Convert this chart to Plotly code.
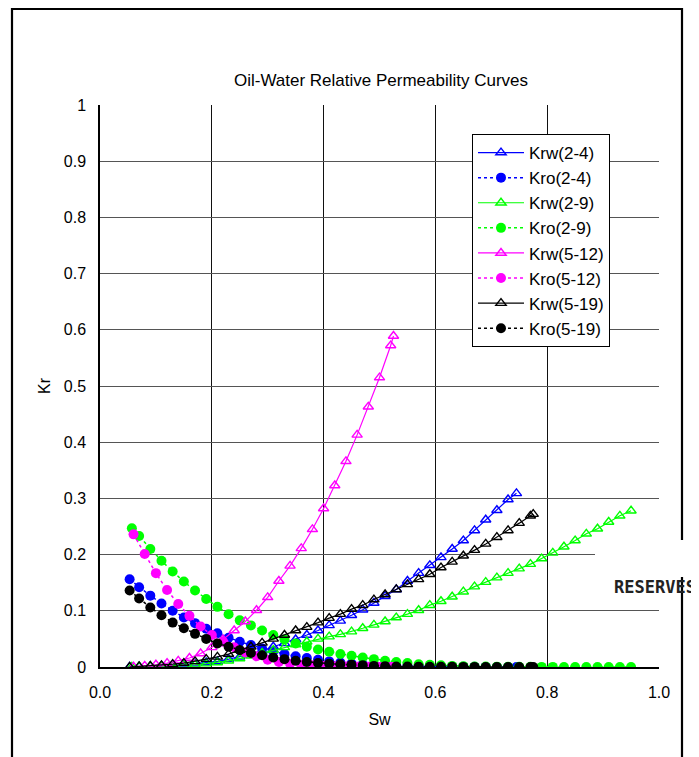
import plotly.graph_objects as go

# ---------------- data ----------------
sw_24 = [0.053, 0.07, 0.09, 0.11, 0.13, 0.15, 0.17, 0.19, 0.21, 0.23, 0.25, 0.27, 0.29, 0.31,
         0.33, 0.35, 0.37, 0.39, 0.41, 0.43, 0.45, 0.47, 0.49, 0.51, 0.53, 0.55, 0.57, 0.59,
         0.61, 0.63, 0.65, 0.67, 0.69, 0.71, 0.73, 0.745]
krw_24 = [0, 0.0005, 0.001, 0.002, 0.003, 0.004, 0.006, 0.008, 0.010, 0.014, 0.018, 0.023,
          0.029, 0.036, 0.042, 0.049, 0.057, 0.065, 0.074, 0.082, 0.092, 0.102, 0.114, 0.126,
          0.138, 0.153, 0.167, 0.181, 0.195, 0.210, 0.225, 0.243, 0.262, 0.279, 0.298, 0.309]
kro_24 = [0.156, 0.142, 0.127, 0.113, 0.100, 0.088, 0.078, 0.068, 0.060, 0.052, 0.045, 0.039,
          0.033, 0.028, 0.023, 0.019, 0.016, 0.013, 0.010, 0.008, 0.006, 0.005, 0.004, 0.003,
          0.002, 0.0015, 0.001, 0.0008, 0.0006, 0.0005, 0.0004, 0.0003, 0.0002, 0.0001, 0.0001, 0]

sw_29 = [0.057, 0.07, 0.09, 0.11, 0.13, 0.15, 0.17, 0.19, 0.21, 0.23, 0.25, 0.27, 0.29, 0.31,
         0.33, 0.35, 0.37, 0.39, 0.41, 0.43, 0.45, 0.47, 0.49, 0.51, 0.53, 0.55, 0.57, 0.59,
         0.61, 0.63, 0.65, 0.67, 0.69, 0.71, 0.73, 0.75, 0.77, 0.79, 0.81, 0.83, 0.85, 0.87,
         0.89, 0.91, 0.93, 0.95]
krw_29 = [0, 0.0005, 0.001, 0.0015, 0.002, 0.003, 0.004, 0.006, 0.008, 0.011, 0.015, 0.020,
          0.025, 0.030, 0.035, 0.040, 0.045, 0.050, 0.054, 0.058, 0.063, 0.069, 0.075, 0.081,
          0.088, 0.094, 0.101, 0.110, 0.117, 0.125, 0.134, 0.143, 0.151, 0.159, 0.167, 0.175,
          0.183, 0.193, 0.203, 0.214, 0.225, 0.237, 0.246, 0.258, 0.269, 0.278]
kro_29 = [0.247, 0.233, 0.210, 0.189, 0.170, 0.152, 0.136, 0.121, 0.107, 0.094, 0.083, 0.074,
          0.065, 0.057, 0.049, 0.042, 0.036, 0.031, 0.027, 0.023, 0.020, 0.017, 0.014, 0.011,
          0.009, 0.007, 0.005, 0.004, 0.003, 0.002, 0.0015, 0.001, 0.0008, 0.0006, 0.0005,
          0.0004, 0.0003, 0.0002, 0.0002, 0.0001, 0.0001, 0.0001, 0, 0, 0, 0]

sw_512 = [0.06, 0.08, 0.10, 0.12, 0.14, 0.16, 0.18, 0.20, 0.22, 0.24, 0.26, 0.28, 0.30, 0.32,
          0.34, 0.36, 0.38, 0.40, 0.42, 0.44, 0.46, 0.48, 0.50, 0.52, 0.525]
krw_512 = [0.0005, 0.002, 0.004, 0.007, 0.011, 0.016, 0.024, 0.035, 0.049, 0.065, 0.081, 0.101,
           0.124, 0.153, 0.180, 0.211, 0.245, 0.282, 0.323, 0.366, 0.413, 0.463, 0.515, 0.572,
           0.589]
kro_512 = [0.236, 0.201, 0.167, 0.137, 0.112, 0.091, 0.072, 0.057, 0.045, 0.035, 0.026, 0.019,
           0.013, 0.009, 0.006, 0.004, 0.003, 0.002, 0.0015, 0.001, 0.0005, 0.0003, 0.0002,
           0.0001, 0]

sw_519 = [0.053, 0.07, 0.09, 0.11, 0.13, 0.15, 0.17, 0.19, 0.21, 0.23, 0.25, 0.27, 0.29, 0.31,
          0.33, 0.35, 0.37, 0.39, 0.41, 0.43, 0.45, 0.47, 0.49, 0.51, 0.53, 0.55, 0.57, 0.59,
          0.61, 0.63, 0.65, 0.67, 0.69, 0.71, 0.73, 0.75, 0.77, 0.775]
krw_519 = [0, 0.001, 0.002, 0.003, 0.005, 0.007, 0.010, 0.014, 0.018, 0.023, 0.030, 0.036,
           0.043, 0.050, 0.057, 0.065, 0.071, 0.079, 0.087, 0.094, 0.103, 0.110, 0.120, 0.129,
           0.138, 0.147, 0.156, 0.165, 0.177, 0.187, 0.198, 0.208, 0.219, 0.231, 0.243, 0.256,
           0.269, 0.272]
kro_519 = [0.136, 0.122, 0.106, 0.092, 0.079, 0.069, 0.059, 0.050, 0.042, 0.036, 0.030, 0.025,
           0.021, 0.017, 0.014, 0.011, 0.009, 0.007, 0.006, 0.005, 0.004, 0.003, 0.002, 0.0015,
           0.001, 0.0008, 0.0006, 0.0005, 0.0004, 0.0003, 0.0002, 0.0002, 0.0001, 0.0001, 0, 0,
           0, 0]

x_ticks = [0.0, 0.2, 0.4, 0.6, 0.8, 1.0]
x_ticklabels = ["0.0", "0.2", "0.4", "0.6", "0.8", "1.0"]
y_ticks = [0, 0.1, 0.2, 0.3, 0.4, 0.5, 0.6, 0.7, 0.8, 0.9, 1]
y_ticklabels = ["0", "0.1", "0.2", "0.3", "0.4", "0.5", "0.6", "0.7", "0.8", "0.9", "1"]

series = [
    ("Krw(2-4)", sw_24, krw_24, "#0000FF", "krw"),
    ("Kro(2-4)", sw_24, kro_24, "#0000FF", "kro"),
    ("Krw(2-9)", sw_29, krw_29, "#00FF00", "krw"),
    ("Kro(2-9)", sw_29, kro_29, "#00FF00", "kro"),
    ("Krw(5-12)", sw_512, krw_512, "#FF00FF", "krw"),
    ("Kro(5-12)", sw_512, kro_512, "#FF00FF", "kro"),
    ("Krw(5-19)", sw_519, krw_519, "#000000", "krw"),
    ("Kro(5-19)", sw_519, kro_519, "#000000", "kro"),
]

FONT = "Liberation Sans, Arial, sans-serif"

fig = go.Figure()
for name, xs, ys, color, kind in series:
    if kind == "krw":
        fig.add_trace(go.Scatter(
            x=xs, y=ys, name=name, mode="lines+markers",
            line=dict(color=color, width=1.2),
            marker=dict(symbol="triangle-up-open", size=9, color=color,
                        line=dict(color=color, width=1.4)),
        ))
    else:
        fig.add_trace(go.Scatter(
            x=xs, y=ys, name=name, mode="lines+markers",
            line=dict(color=color, width=1.5, dash="dot"),
            marker=dict(symbol="circle", size=10, color=color, line=dict(width=0)),
        ))

# page pixel -> paper coordinates (plot area: x 100..659, y 667..105 on the page)
def px_x(p):
    return (p - 100) / 559.0

def px_y(p):
    return (667 - p) / 562.0

shapes = [
    # outer frame
    dict(type="rect", xref="paper", yref="paper",
         x0=px_x(12), x1=px_x(682), y0=px_y(790), y1=px_y(9),
         line=dict(color="black", width=2.2), fillcolor="rgba(0,0,0,0)", layer="above"),
    # white patch around the watermark
    dict(type="rect", xref="paper", yref="paper",
         x0=px_x(595), x1=px_x(720), y0=px_y(577), y1=px_y(540),
         line=dict(width=0), fillcolor="white", layer="above"),
]

BODY = 8  # default page margin of the html body
W = 699 - BODY
H = 757 - BODY

fig.update_layout(
    width=W, height=H,
    margin=dict(l=100 - BODY, r=W - (659 - BODY), t=105 - BODY, b=H - (667 - BODY)),
    paper_bgcolor="white", plot_bgcolor="white",
    font=dict(family=FONT, size=16, color="black"),
    title=dict(text="Oil-Water Relative Permeability Curves",
               font=dict(family=FONT, size=17, color="black"),
               x=px_x(381), xref="paper", xanchor="center",
               y=1 - (80 - BODY) / H, yref="container", yanchor="middle"),
    xaxis=dict(range=[0, 1.0], tickvals=x_ticks, ticktext=x_ticklabels,
               showgrid=True, gridcolor="#111111", gridwidth=1,
               showline=True, linecolor="black", linewidth=1.5, mirror=False,
               zeroline=False, ticks="", tickfont=dict(size=16), ticklabelstandoff=10,
               title=dict(text="Sw", font=dict(size=16), standoff=14)),
    yaxis=dict(range=[0, 1.0], tickvals=y_ticks, ticktext=y_ticklabels,
               showgrid=True, gridcolor="#555555", gridwidth=1.2,
               showline=True, linecolor="black", linewidth=1.5, mirror=False,
               zeroline=False, ticks="", tickfont=dict(size=16), ticklabelstandoff=9,
               title=dict(text="Kr", font=dict(size=16), standoff=9)),
    legend=dict(x=px_x(472), y=px_y(134), xanchor="left", yanchor="top",
                bgcolor="white", bordercolor="black", borderwidth=1,
                font=dict(family=FONT, size=17), itemwidth=46,
                tracegroupgap=0),
    shapes=shapes,
    annotations=[dict(text="<b>RESERVES</b>", xref="paper", yref="paper",
                      x=px_x(612), y=px_y(587), xanchor="left", yanchor="middle",
                      showarrow=False,
                      font=dict(family="DejaVu Sans Mono, monospace",
                                size=17, color="#222222"))],
)

fig.write_html("out.html")
